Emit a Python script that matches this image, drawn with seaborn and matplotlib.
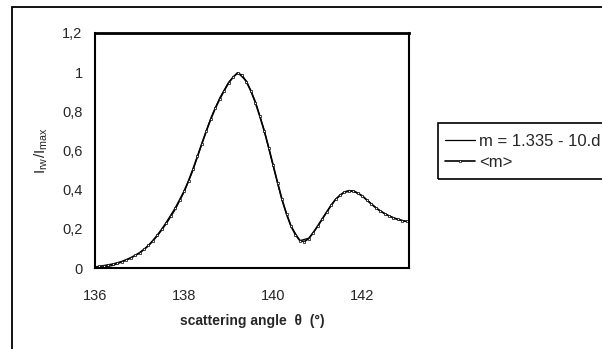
import numpy as np
import pandas as pd
import matplotlib
matplotlib.use("Agg")
import matplotlib.pyplot as plt
import seaborn as sns
from matplotlib.patches import Rectangle

sns.set_style("white")
plt.rcParams['font.family'] = ['Liberation Sans', 'DejaVu Sans']
plt.rcParams['mathtext.fontset'] = 'custom'
plt.rcParams['mathtext.rm'] = 'Liberation Sans'

# model curve: m = 1.335 - 10.d...
model_angle = [136.0, 136.2, 136.4, 136.6, 136.8, 137.0, 137.2, 137.4, 137.6, 137.8,
               138.0, 138.2, 138.4, 138.6, 138.8, 139.0, 139.2, 139.4, 139.6, 139.8,
               140.0, 140.2, 140.4, 140.6, 140.8, 141.0, 141.2, 141.4, 141.6, 141.8,
               142.0, 142.2, 142.4, 142.6, 142.8, 143.0]
model_int = [0.000, 0.004, 0.013, 0.030, 0.050, 0.076, 0.113, 0.164, 0.226, 0.298,
             0.388, 0.500, 0.636, 0.765, 0.868, 0.948, 0.998, 0.955, 0.850, 0.702,
             0.522, 0.345, 0.212, 0.140, 0.152, 0.212, 0.285, 0.350, 0.387, 0.393,
             0.368, 0.328, 0.292, 0.266, 0.248, 0.237]

# measured <m>
meas_angle = [136.0, 136.1, 136.2, 136.3, 136.4, 136.5, 136.6, 136.7, 136.8, 136.9,
              137.0, 137.1, 137.2, 137.3, 137.4, 137.5, 137.6, 137.7, 137.8, 137.9,
              138.0, 138.1, 138.2, 138.3, 138.4, 138.5, 138.6, 138.7, 138.8, 138.9,
              139.0, 139.1, 139.2, 139.3, 139.4, 139.5, 139.6, 139.7, 139.8, 139.9,
              140.0, 140.1, 140.2, 140.3, 140.4, 140.5, 140.6, 140.7, 140.8, 140.9,
              141.0, 141.1, 141.2, 141.3, 141.4, 141.5, 141.6, 141.7, 141.8, 141.9,
              142.0, 142.1, 142.2, 142.3, 142.4, 142.5, 142.6, 142.7, 142.8, 142.9,
              143.0]
meas_int = [0.005, 0.008, 0.012, 0.016, 0.020, 0.026, 0.033, 0.042, 0.052, 0.064,
            0.078, 0.095, 0.115, 0.140, 0.168, 0.198, 0.232, 0.268, 0.305, 0.348,
            0.392, 0.445, 0.505, 0.570, 0.635, 0.700, 0.760, 0.815, 0.862, 0.905,
            0.945, 0.975, 0.995, 0.985, 0.950, 0.905, 0.845, 0.775, 0.700, 0.615,
            0.525, 0.435, 0.350, 0.275, 0.215, 0.170, 0.140, 0.135, 0.150, 0.180,
            0.215, 0.250, 0.285, 0.320, 0.350, 0.372, 0.388, 0.395, 0.393, 0.383,
            0.368, 0.348, 0.328, 0.308, 0.292, 0.278, 0.266, 0.256, 0.248, 0.242,
            0.238]

x_ticks = [136, 138, 140, 142]
y_ticks = [0, 0.2, 0.4, 0.6, 0.8, 1.0, 1.2]
y_tick_labels = ["0", "0,2", "0,4", "0,6", "0,8", "1", "1,2"]

W, H = 602, 349
fig = plt.figure(figsize=(W / 100, H / 100), dpi=100)
fig.patch.set_facecolor("white")

# outer chart frame (extends off the canvas on right/bottom)
fig.patches.append(Rectangle((12 / W, -0.2), 1.2, 1.2 - 7 / H, transform=fig.transFigure,
                             fill=False, edgecolor="black", linewidth=1.3, clip_on=False))

ax = fig.add_axes([95 / W, 1 - 268 / H, (409 - 95) / W, (268 - 33) / H])

df_model = pd.DataFrame({"angle": model_angle, "I": model_int})
df_meas = pd.DataFrame({"angle": meas_angle, "I": meas_int})

sns.lineplot(data=df_model, x="angle", y="I", ax=ax, color="black", linewidth=0.9,
             label="m = 1.335 - 10.d")
sns.lineplot(data=df_meas, x="angle", y="I", ax=ax, color="black", linewidth=1.2,
             marker="s", markersize=2.0, markerfacecolor="white", markeredgecolor="black",
             markeredgewidth=0.5, label="<m>")

ax.set_xlim(136, 143.05)
ax.set_ylim(0, 1.2)
ax.set_xticks(x_ticks)
ax.set_xticklabels([str(t) for t in x_ticks])
ax.set_yticks(y_ticks)
ax.set_yticklabels(y_tick_labels)
ax.tick_params(axis="x", direction="in", length=3, pad=15, labelsize=10.5, color="black")
ax.tick_params(axis="y", direction="in", length=3, pad=9, labelsize=10.5, color="black")
for s in ax.spines.values():
    s.set_color("black")
    s.set_linewidth(1.5)
ax.spines["top"].set_linewidth(2.0)

ax.set_xlabel("scattering angle  θ  (°)", fontsize=10, fontweight="bold", labelpad=8)
ax.set_ylabel(r"$\mathregular{I_{rw}/I_{max}}$", fontsize=11, labelpad=9)

# legend box (frame drawn separately; extends past canvas edge)
fig.patches.append(Rectangle((438 / W, 1 - 179 / H), 0.4, (179 - 123) / H, transform=fig.transFigure,
                             fill=False, edgecolor="black", linewidth=1.2, clip_on=False))
leg = ax.legend(loc="center left", bbox_to_anchor=(440 / W, 1 - 152 / H),
                bbox_transform=fig.transFigure, frameon=False, fontsize=12,
                handlelength=1.8, handletextpad=0.25, labelspacing=0.4, borderpad=0.1,
                borderaxespad=0.2)

fig.savefig("out.png", dpi=100, facecolor="white")
